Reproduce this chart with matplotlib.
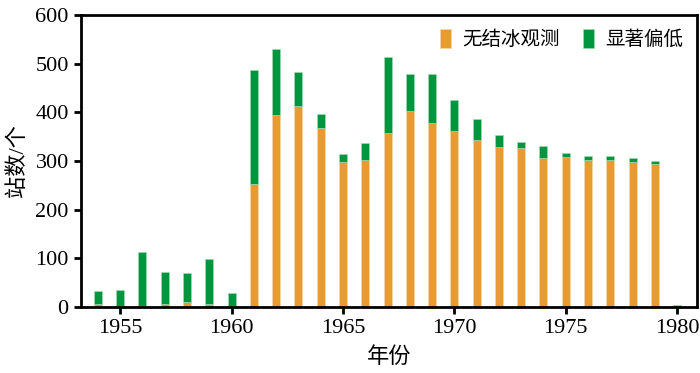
import numpy as np
import matplotlib
matplotlib.use('Agg')
import matplotlib.pyplot as plt

plt.rcParams['font.family'] = ['Liberation Serif', 'Noto Sans CJK SC']

years = list(range(1954, 1981))
no_ice = [6, 3, 3, 7, 10, 7, 3,
          253, 395, 412, 368, 298, 301, 358, 402, 377, 361, 344,
          329, 326, 307, 309, 301, 302, 297, 293, 0]
total = [33, 35, 112, 72, 69, 99, 28,
         487, 529, 482, 397, 314, 337, 514, 479, 478, 425, 386,
         354, 339, 331, 317, 311, 310, 306, 300, 4]
low = [t - n for t, n in zip(total, no_ice)]

fig = plt.figure(figsize=(7, 3.73), dpi=100)
ax = fig.add_axes([0.116, 0.177, 0.880, 0.783])

w = 0.36
ax.bar(years, no_ice, width=w, color='#E89A33', edgecolor='#F5D9A8', linewidth=0.4, label='无结冰观测')
ax.bar(years, low, width=w, bottom=no_ice, color='#00953F', edgecolor='#A8DDB5', linewidth=0.4, label='显著偏低')

ax.set_xlim(1953.25, 1980.9)
ax.set_ylim(0, 600)
ax.set_xticks([1955, 1960, 1965, 1970, 1975, 1980])
ax.set_yticks([0, 100, 200, 300, 400, 500, 600])
for s in ax.spines.values():
    s.set_linewidth(2)
ax.tick_params(direction='out', length=5, width=2, labelsize=16, pad=4)
ax.set_xlabel('年份', fontsize=16, labelpad=6)
ax.set_ylabel('站数/个', fontsize=16, labelpad=5)

ax.legend(loc='upper right', ncol=2, frameon=False, fontsize=14,
          handlelength=0.55, handleheight=1.2, handletextpad=0.6,
          columnspacing=1.2, borderaxespad=0.3)

fig.savefig('out.png', dpi=100)
